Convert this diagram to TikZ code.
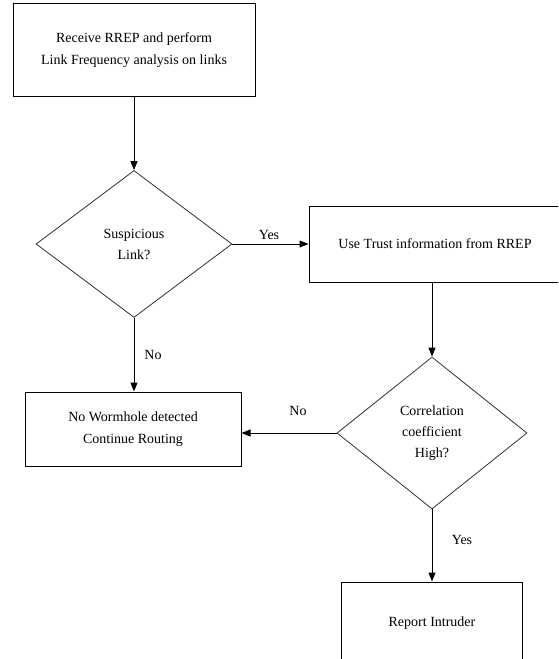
\documentclass[tikz,border=0pt]{standalone}
\usepackage{fontspec}
\setmainfont{Liberation Serif}
\usetikzlibrary{shapes.geometric}
\usetikzlibrary{arrows.meta}

\begin{document}
\begin{tikzpicture}[x=1pt,y=-1pt,
  procbox/.style={rectangle,draw=black,line width=1pt,align=center,inner sep=0pt,font=\fontsize{14}{22}\selectfont},
  decision/.style={diamond,draw=black!80,line width=0.8pt,align=center,inner sep=0pt,font=\fontsize{14}{21}\selectfont},
  flow/.style={-{Triangle[length=9pt,width=7pt]},line width=1pt},
  answer/.style={font=\fontsize{14}{16}\selectfont}]
\useasboundingbox (0,0) rectangle (558,659);
\clip (0,0) rectangle (558,659);

\node[procbox,minimum width=242pt,minimum height=93pt] (receive) at (134,50) {Receive RREP and perform\\Link Frequency analysis on links};
\node[decision,minimum width=196pt,minimum height=147pt] (suspicious) at (134,244) {Suspicious\\Link?};
\node[procbox,minimum width=262pt,minimum height=76pt] (trust) at (440,244) {Use Trust information from RREP\hspace*{10pt}};
\node[procbox,minimum width=216pt,minimum height=74pt] (nowormhole) at (133,429) {No Wormhole detected\\Continue Routing};
\node[decision,minimum width=190pt,minimum height=152pt] (correl) at (432,433) {Correlation\\coefficient\\High?};
\node[procbox,minimum width=181pt,minimum height=82pt] (report) at (432,623) {Report Intruder};

\node[answer] (yes1) at (269,235) {Yes};
\node[answer] (no1) at (153,355) {No};
\node[answer] (no2) at (298,411) {No};
\node[answer] (yes2) at (462,540) {Yes};

\draw[flow] (receive.south) -- (suspicious.north);
\draw[flow] (suspicious.east) -- (trust.west);
\draw[flow] (trust.south -| correl.north) -- (correl.north);
\draw[flow] (suspicious.south) -- (suspicious.south |- nowormhole.north);
\draw[flow] (correl.west) -- (correl.west -| nowormhole.east);
\draw[flow] (correl.south) -- (report.north);

\end{tikzpicture}
\end{document}
